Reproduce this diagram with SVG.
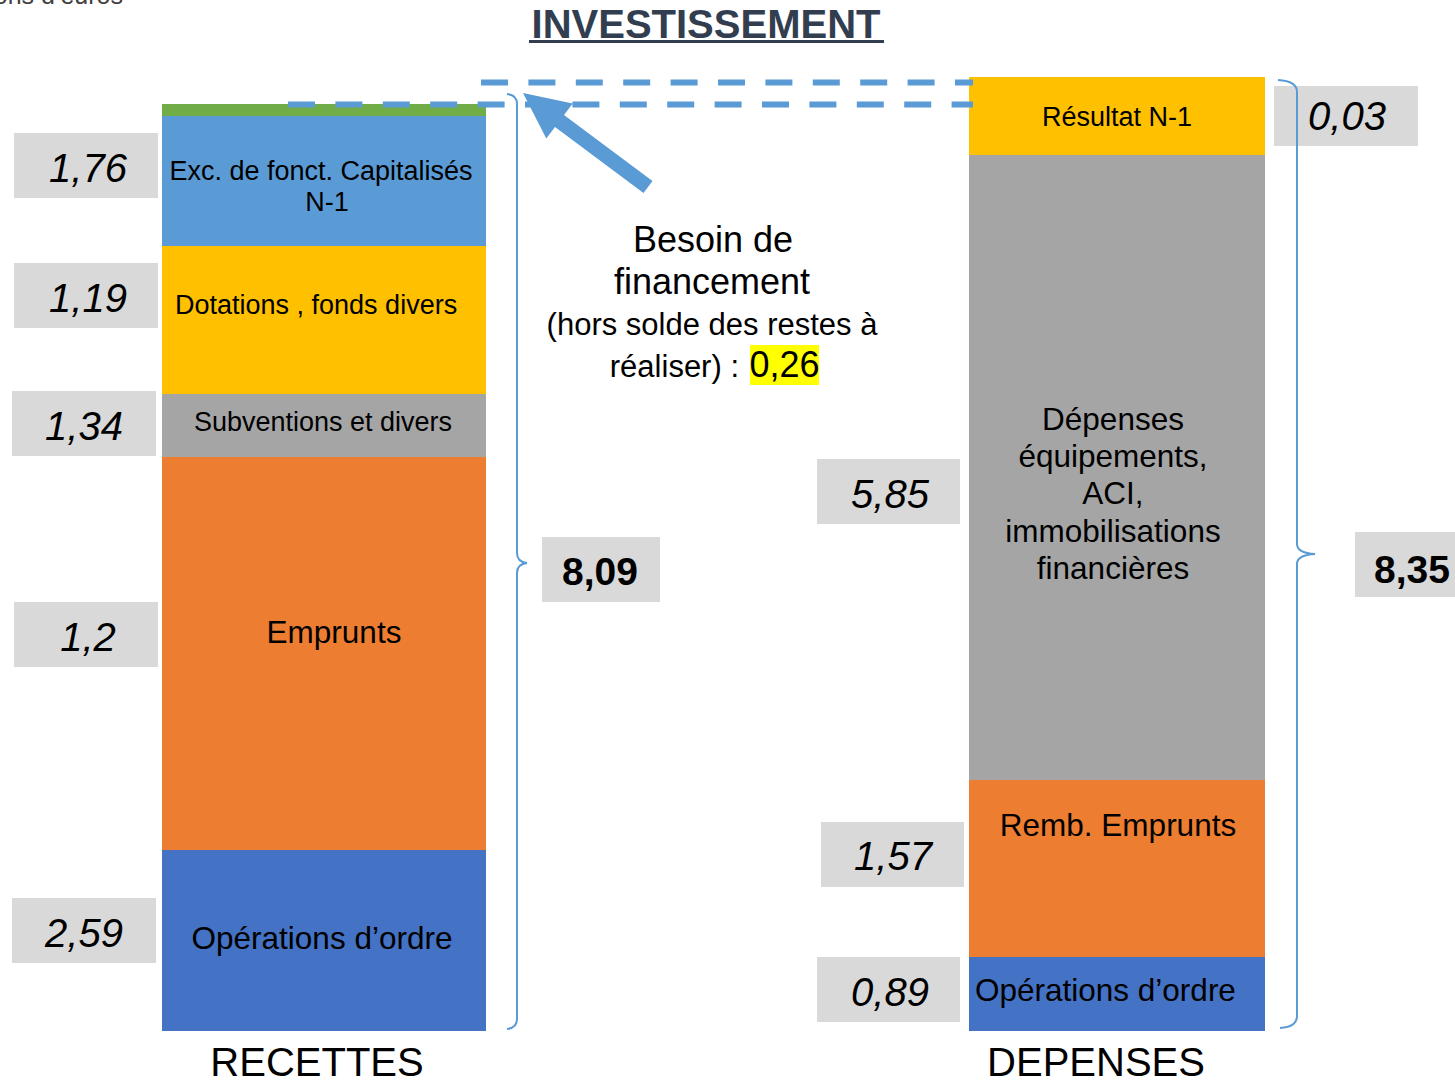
<svg xmlns="http://www.w3.org/2000/svg" width="1455" height="1082" viewBox="0 0 1455 1082">
<style>
text{font-family:"Liberation Sans",Arial,sans-serif;fill:#000}
.val{font-size:40px;font-style:italic;text-anchor:middle}
.tot{font-size:39px;font-weight:bold;text-anchor:middle}
.box{fill:#D9D9D9}
.lbl{text-anchor:middle}
.dash{stroke:#5B9BD5;stroke-width:6;fill:none;stroke-dasharray:27 20.4}
.brace{stroke:#5B9BD5;stroke-width:2;fill:none}
</style>
<rect width="1455" height="1082" fill="#fff"/>
<text x="123" y="4" font-size="25" text-anchor="end" style="fill:#404040">En millions d’euros</text>
<g id="title">
<text x="706" y="38" font-size="40" font-weight="bold" text-anchor="middle" style="fill:#323E4F">INVESTISSEMENT</text>
<rect x="529" y="40" width="355" height="3" fill="#323E4F"/>
</g>

<g id="recettes">
<rect x="162" y="104" width="324" height="12" fill="#70AD47"/>
<g id="rec-exc"><rect x="162" y="116" width="324" height="130" fill="#5B9BD5"/>
<text class="lbl" x="321" y="180" font-size="27">Exc. de fonct. Capitalisés</text>
<text class="lbl" x="327" y="211" font-size="27">N-1</text></g>
<g id="rec-dot"><rect x="162" y="246" width="324" height="148" fill="#FFC000"/>
<text x="175" y="314" font-size="27">Dotations , fonds divers</text></g>
<g id="rec-sub"><rect x="162" y="394" width="324" height="63" fill="#A5A5A5"/>
<text class="lbl" x="323" y="431" font-size="27">Subventions et divers</text></g>
<g id="rec-emp"><rect x="162" y="457" width="324" height="393" fill="#ED7D31"/>
<text class="lbl" x="334" y="643" font-size="31.5">Emprunts</text></g>
<g id="rec-ord"><rect x="162" y="850" width="324" height="181" fill="#4472C4"/>
<text class="lbl" x="322" y="949" font-size="31.5">Opérations d’ordre</text></g>
<text class="lbl" x="317" y="1076" font-size="40">RECETTES</text>
</g>

<g id="depenses">
<g id="dep-res"><rect x="969" y="77" width="296" height="78" fill="#FFC000"/>
<text class="lbl" x="1117" y="126" font-size="27">Résultat N-1</text></g>
<g id="dep-equ"><rect x="969" y="155" width="296" height="625" fill="#A5A5A5"/>
<text class="lbl" font-size="31.5"><tspan x="1113" y="430">Dépenses</tspan><tspan x="1113" y="467">équipements,</tspan><tspan x="1113" y="504">ACI,</tspan><tspan x="1113" y="542">immobilisations</tspan><tspan x="1113" y="579">financières</tspan></text></g>
<g id="dep-remb"><rect x="969" y="780" width="296" height="177" fill="#ED7D31"/>
<text class="lbl" x="1118" y="836" font-size="31.5">Remb. Emprunts</text></g>
<g id="dep-ord"><rect x="969" y="957" width="296" height="74" fill="#4472C4"/>
<text x="975" y="1001" font-size="31.5">Opérations d’ordre</text></g>
<text class="lbl" x="1096" y="1076" font-size="40">DEPENSES</text>
</g>

<g id="values">
<g id="v176"><rect class="box" x="14" y="133" width="144" height="65"/><text class="val" x="88" y="182">1,76</text></g>
<g id="v119"><rect class="box" x="14" y="263" width="144" height="65"/><text class="val" x="88" y="312">1,19</text></g>
<g id="v134"><rect class="box" x="12" y="391" width="144" height="65"/><text class="val" x="84" y="440">1,34</text></g>
<g id="v12"><rect class="box" x="14" y="602" width="144" height="65"/><text class="val" x="88" y="651">1,2</text></g>
<g id="v259"><rect class="box" x="12" y="898" width="144" height="65"/><text class="val" x="84" y="947">2,59</text></g>
<g id="v809"><rect class="box" x="542" y="537" width="118" height="65"/><text class="tot" x="600" y="585">8,09</text></g>
<g id="v585"><rect class="box" x="817" y="459" width="143" height="65"/><text class="val" x="890" y="508">5,85</text></g>
<g id="v157"><rect class="box" x="821" y="822" width="143" height="65"/><text class="val" x="893" y="870">1,57</text></g>
<g id="v089"><rect class="box" x="817" y="957" width="143" height="65"/><text class="val" x="890" y="1006">0,89</text></g>
<g id="v003"><rect class="box" x="1274" y="86" width="144" height="60"/><text class="val" x="1347" y="130">0,03</text></g>
<g id="v835"><rect class="box" x="1355" y="532" width="100" height="65"/><text class="tot" x="1412" y="583">8,35</text></g>
</g>

<g id="besoin">
<rect x="750" y="345" width="69" height="40" fill="#FFFF00"/>
<text class="lbl" x="713" y="252" font-size="36">Besoin de</text>
<text class="lbl" x="712" y="294" font-size="36">financement</text>
<text class="lbl" x="712" y="335" font-size="31">(hors solde des restes à</text>
<text x="739" y="377" font-size="31" text-anchor="end">réaliser) :</text>
<text x="784.5" y="377" font-size="36" text-anchor="middle">0,26</text>
</g>

<g id="connectors">
<line class="dash" x1="481" y1="82.5" x2="973" y2="82.5"/>
<line class="dash" x1="288" y1="104.5" x2="973" y2="104.5"/>
<polygon points="523,93 572.7,103.4 564,115 652.5,181 643.5,193 555,127 546.3,138.6" fill="#5B9BD5"/>
<path class="brace" d="M507,94 Q517,95 517,104 L517,553 Q517,562 527,563 Q517,564 517,573 L517,1019 Q517,1028 507,1029"/>
<path class="brace" d="M1278,80 Q1297,81 1297,92 L1297,544 Q1297,553 1315,554 Q1297,555 1297,564 L1297,1016 Q1297,1027 1280,1028"/>
</g>
</svg>
